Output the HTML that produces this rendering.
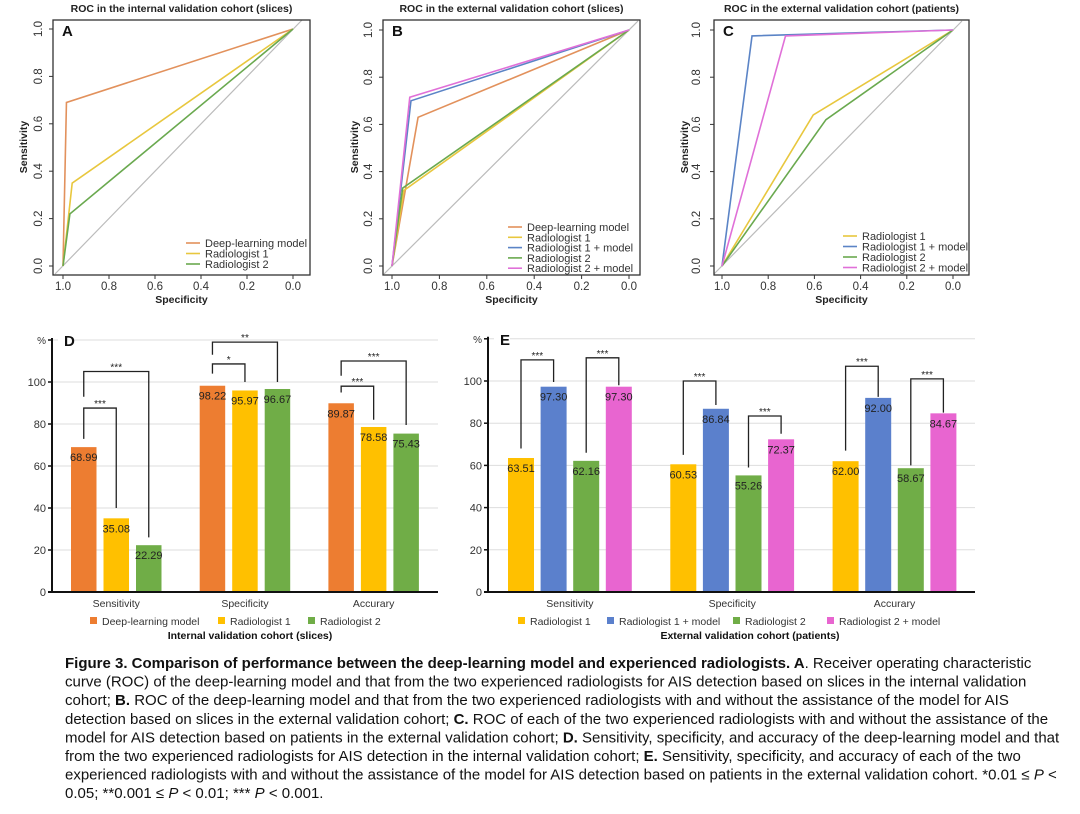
<!DOCTYPE html>
<html><head><meta charset="utf-8"><style>
body{margin:0;background:#fff;width:1080px;height:814px;overflow:hidden}
svg{display:block;font-family:"Liberation Sans",Arial,sans-serif}
</style></head><body>
<svg id="fig" width="1080" height="814" viewBox="0 0 1080 814"></svg>
<script>
// ---------- ROC data ----------
const rocA_names = ["Deep-learning model","Radiologist 1","Radiologist 2"];
const rocA_spec = [0.985,0.96,0.97];
const rocA_sens = [0.69,0.35,0.22];
const rocB_names = ["Deep-learning model","Radiologist 1","Radiologist 1 + model","Radiologist 2","Radiologist 2 + model"];
const rocB_spec = [0.89,0.95,0.92,0.955,0.925];
const rocB_sens = [0.63,0.32,0.70,0.33,0.715];
const rocC_names = ["Radiologist 1","Radiologist 1 + model","Radiologist 2","Radiologist 2 + model"];
const rocC_spec = [0.605,0.87,0.55,0.725];
const rocC_sens = [0.64,0.975,0.62,0.975];
const rocTicks = [1.0,0.8,0.6,0.4,0.2,0.0];
// ---------- Bar data ----------
const barCategories = ["Sensitivity","Specificity","Accurary"];
const barTicks = [0,20,40,60,80,100];
const D_series = ["Deep-learning model","Radiologist 1","Radiologist 2"];
const D_values = [[68.99,98.22,89.87],[35.08,95.97,78.58],[22.29,96.67,75.43]];
const E_series = ["Radiologist 1","Radiologist 1 + model","Radiologist 2","Radiologist 2 + model"];
const E_values = [[63.51,60.53,62.00],[97.30,86.84,92.00],[62.16,55.26,58.67],[97.30,72.37,84.67]];
// brackets: [category, seriesA, seriesB, level, leftEnd, rightEnd, stars]
const D_brackets = [[0,0,1,87.6,72.9,40,"***"],[0,0,2,105,93,26,"***"],[1,0,1,108.6,104,100,"*"],[1,0,2,119,113,100,"**"],[2,0,1,98,95,82,"***"],[2,0,2,110,103,79.5,"***"]];
const E_brackets = [[0,0,1,110,68,99.5,"***"],[0,2,3,111,66,98,"***"],[1,0,1,100,65,88.6,"***"],[1,2,3,83.4,59,75,"***"],[2,0,1,107,67,92.5,"***"],[2,2,3,101,60,85,"***"]];

const NS="http://www.w3.org/2000/svg";
const svg=document.getElementById('fig');
function mk(tag,attrs,parent,text){const e=document.createElementNS(NS,tag);for(const k in attrs)e.setAttribute(k,attrs[k]);if(text!==undefined)e.textContent=text;(parent||svg).appendChild(e);return e;}

const rocColor={"Deep-learning model":"#e2915c","Radiologist 1":"#e8c73e","Radiologist 1 + model":"#5b84c6","Radiologist 2":"#6aa94f","Radiologist 2 + model":"#e070d8"};
const barColor={"Deep-learning model":"#ed7d31","Radiologist 1":"#ffc000","Radiologist 1 + model":"#5b80cc","Radiologist 2":"#70ad47","Radiologist 2 + model":"#e865d0"};

function roc(p){
  const g=mk('g',{});
  
  
  const sx=s=>p.x1+(1-s)*(p.x0-p.x1);
  const sy=v=>p.y0-v*(p.y0-p.y1);
  const t=mk('text',{x:(p.bx0+p.bx1)/2,y:12,'text-anchor':'middle','font-size':'10.5','font-weight':'bold',fill:'#222'},g,p.title);
  
  
  mk('line',{x1:sx(1)-8,y1:sy(0)+8,x2:sx(0)+9,y2:sy(1)-9,stroke:'#bbb','stroke-width':1.2},g);
  p.names.forEach((n,i)=>{
    const l=mk('polyline',{points:`${sx(1)},${sy(0)} ${sx(p.spec[i])},${sy(p.sens[i])} ${sx(0)},${sy(1)}`,fill:'none',stroke:rocColor[n],'stroke-width':1.6},g);
    
    
  });
  const box=mk('rect',{x:p.bx0,y:20,width:p.bx1-p.bx0,height:255,fill:'none',stroke:'#333','stroke-width':1.3},g);
  
  
  mk('text',{x:p.bx0+9,y:36,'font-size':'15','font-weight':'bold',fill:'#111'},g,p.letter);
  rocTicks.forEach(v=>{
    const x=sx(v);
    mk('line',{x1:x,y1:275,x2:x,y2:279,stroke:'#333'},g);
    const tl=mk('text',{x:x,y:290,'text-anchor':'middle','font-size':'11.5',fill:'#333'},g,v.toFixed(1));
    
    
    const y=sy(v);
    mk('line',{x1:p.bx0-4,y1:y,x2:p.bx0,y2:y,stroke:'#333'},g);
    const yl=mk('text',{x:p.tx,y:y,'text-anchor':'middle','font-size':'11.5',fill:'#333',transform:`rotate(-90 ${p.tx} ${y})`},g,v.toFixed(1));
    
    
  });
  const xt=mk('text',{x:(p.bx0+p.bx1)/2,y:303,'text-anchor':'middle','font-size':'10.5','font-weight':'bold',fill:'#222'},g,'Specificity');
  
  
  const yc=147;
  const yt=mk('text',{x:p.lx,y:yc,'text-anchor':'middle','font-size':'10.5','font-weight':'bold',fill:'#222',transform:`rotate(-90 ${p.lx} ${yc})`},g,'Sensitivity');
  
  
  p.names.forEach((n,i)=>{
    const y=p.legY0+i*p.legDy;
    const le=mk('g',{},g);
    
    
    mk('line',{x1:p.legX,y1:y,x2:p.legX+14,y2:y,stroke:rocColor[n],'stroke-width':1.6},le);
    mk('text',{x:p.legX+19,y:y+4,'font-size':'11',fill:'#333'},le,n);
  });
}
roc({id:'roc-panel-a',title:'ROC in the internal validation cohort (slices)',letter:'A',names:rocA_names,spec:rocA_spec,sens:rocA_sens,bx0:53,bx1:310,x1:63,x0:293,y1:29,y0:266,tx:42,lx:27,legX:186,legY0:243,legDy:10.5});
roc({id:'roc-panel-b',title:'ROC in the external validation cohort (slices)',letter:'B',names:rocB_names,spec:rocB_spec,sens:rocB_sens,bx0:383,bx1:640,x1:392,x0:629,y1:30,y0:266,tx:372,lx:358,legX:508,legY0:227,legDy:10.3});
roc({id:'roc-panel-c',title:'ROC in the external validation cohort (patients)',letter:'C',names:rocC_names,spec:rocC_spec,sens:rocC_sens,bx0:714,bx1:969,x1:722,x0:953,y1:30,y0:266,tx:700,lx:688,legX:843,legY0:236,legDy:10.5});

function bars(p){
  const g=mk('g',{});
  
  
  const sy=v=>p.y0-v*(p.y0-p.y100)/100;
  const bx=(c,s)=>p.gx+c*p.gstep+s*p.bstep;
  for(let v=0;v<=120;v+=20){
    if(v>0){const gl=mk('line',{x1:p.ax,y1:sy(v),x2:p.ax1,y2:sy(v),stroke:'#ddd','stroke-width':1},g);
    }
  }
  barTicks.forEach(v=>{
    mk('line',{x1:p.ax-4,y1:sy(v),x2:p.ax,y2:sy(v),stroke:'#111','stroke-width':1.5},g);
    const tl=mk('text',{x:p.ax-6,y:sy(v)+4,'text-anchor':'end','font-size':'11',fill:'#333'},g,String(v));
    
    
  });
  mk('text',{x:p.ax-6,y:sy(120)+4,'text-anchor':'end','font-size':'10',fill:'#333'},g,'%');
  mk('line',{x1:p.ax-4,y1:sy(120),x2:p.ax,y2:sy(120),stroke:'#111','stroke-width':1.5},g);
  mk('rect',{x:p.ax+6,y:sy(120)-8,width:16,height:16,fill:'#fff'},g);
  mk('text',{x:p.ax+12,y:sy(120)+6,'font-size':'15','font-weight':'bold',fill:'#111'},g,p.letter);
  p.series.forEach((s,si)=>{
    barCategories.forEach((c,ci)=>{
      const v=p.values[si][ci];
      const r=mk('rect',{x:bx(ci,si),y:sy(v),width:p.bw,height:sy(0)-sy(v),fill:barColor[s]},g);
      
      
      const t=mk('text',{x:bx(ci,si)+p.bw/2,y:sy(v)+14,'text-anchor':'middle','font-size':'11',fill:'#222'},g,v.toFixed(2));
      
      
    });
  });
  mk('line',{x1:p.ax,y1:sy(120)-2,x2:p.ax,y2:sy(0),stroke:'#111','stroke-width':2},g);
  mk('line',{x1:p.ax-4,y1:sy(0),x2:p.ax1,y2:sy(0),stroke:'#111','stroke-width':2},g);
  barCategories.forEach((c,ci)=>{
    const cx=bx(ci,0)+(p.series.length*p.bstep-(p.bstep-p.bw))/2;
    const t=mk('text',{x:cx,y:607,'text-anchor':'middle','font-size':'10.5',fill:'#333'},g,c);
    
    
  });
  p.brackets.forEach(b=>{
    const xl=bx(b[0],b[1])+p.bw/2, xr=bx(b[0],b[2])+p.bw/2;
    const br=mk('polyline',{points:`${xl},${sy(b[4])} ${xl},${sy(b[3])} ${xr},${sy(b[3])} ${xr},${sy(b[5])}`,fill:'none',stroke:'#222','stroke-width':1.3},g);
    
    
    mk('text',{x:(xl+xr)/2,y:sy(b[3])-1,'text-anchor':'middle','font-size':'10',fill:'#222'},g,b[6]);
  });
  let lx=p.legX;
  p.series.forEach((s,i)=>{
    const le=mk('g',{},g);
    
    
    mk('rect',{x:lx,y:617,width:7,height:7,fill:barColor[s]},le);
    mk('text',{x:lx+12,y:625,'font-size':'10.5',fill:'#333'},le,s);
    lx+=p.legW[i];
  });
  const tt=mk('text',{x:p.titleX,y:639,'text-anchor':'middle','font-size':'10.5','font-weight':'bold',fill:'#111'},g,p.title);
  
  
}
bars({id:'bar-panel-d',letter:'D',series:D_series,values:D_values,brackets:D_brackets,ax:52,ax1:438,y0:592,y100:382,gx:71,gstep:128.7,bstep:32.5,bw:25.5,legX:90,legW:[128,90,90],title:'Internal validation cohort (slices)',titleX:250});
bars({id:'bar-panel-e',letter:'E',series:E_series,values:E_values,brackets:E_brackets,ax:488,ax1:975,y0:592,y100:381,gx:508,gstep:162.3,bstep:32.6,bw:26,legX:518,legW:[89,126,94,130],title:'External validation cohort (patients)',titleX:750});

// caption
const cap=mk('text',{x:65,y:668,'font-size':'15',fill:'#111'});


const lines=[
 [["b","Figure 3. Comparison of performance between the deep-learning model and experienced radiologists. A"],["",". Receiver operating characteristic"]],
 [["","curve (ROC) of the deep-learning model and  that from the two experienced radiologists for AIS detection based on slices in the internal validation"]],
 [["","cohort; "],["b","B."],[""," ROC of the deep-learning model and that from the two experienced radiologists with and without the assistance of the model for AIS"]],
 [["","detection based on slices in the external validation cohort; "],["b","C."],[""," ROC of each of the two experienced radiologists with and without the assistance of the"]],
 [["","model for AIS detection based on patients in the external validation cohort; "],["b","D."],[""," Sensitivity, specificity, and accuracy of the deep-learning model and that"]],
 [["","from the two experienced radiologists for AIS detection in the internal validation cohort; "],["b","E."],[""," Sensitivity, specificity, and accuracy of each of the two"]],
 [["","experienced radiologists with and without the assistance of the model for AIS detection based on patients in the external validation cohort. *0.01 \u2264 "],["i","P"],[""," <"]],
 [["","0.05; **0.001 \u2264  "],["i","P"],[""," < 0.01; *** "],["i","P"],[""," < 0.001."]]
];
lines.forEach((ln,i)=>{
  ln.forEach((seg,j)=>{
    const a={};
    if(j===0){a.x=65;a.y=668+i*18.6;}
    if(seg[0]==='b')a['font-weight']='bold';
    if(seg[0]==='i')a['font-style']='italic';
    mk('tspan',a,cap,seg[1]);
  });
});
</script>
</body></html>
